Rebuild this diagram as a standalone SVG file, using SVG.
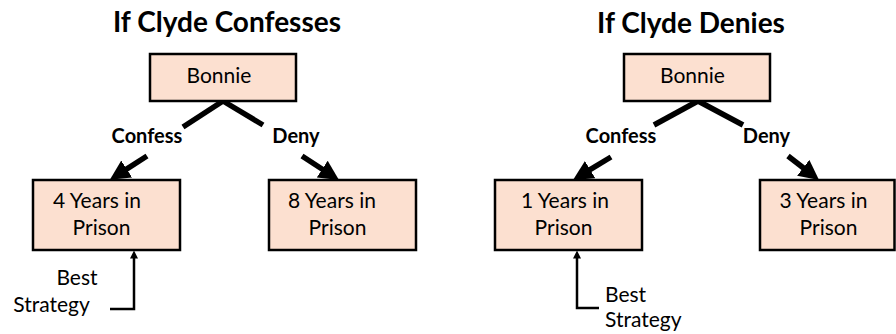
<svg xmlns="http://www.w3.org/2000/svg" width="896" height="334" viewBox="0 0 896 334">
<style>
  .box { fill: #FCE0D0; stroke: #000; stroke-width: 2.5; }
  .t { font-family: Lato, "Open Sans", "Liberation Sans", sans-serif; font-size: 21px; fill: #000; }
  .title { font-family: Lato, "Open Sans", "Liberation Sans", sans-serif; font-size: 28px; font-weight: bold; fill: #000; }
  .lbl { font-family: Lato, "Open Sans", "Liberation Sans", sans-serif; font-size: 20px; font-weight: bold; fill: #000; }
  .m { text-anchor: middle; }
  .edge { stroke: #000; stroke-width: 5.5; fill: none; }
  .pointer { stroke: #000; stroke-width: 2.5; fill: none; }
</style>
<defs>
  <marker id="big" markerUnits="userSpaceOnUse" markerWidth="21" markerHeight="21" refX="2" refY="10" orient="auto">
    <path d="M0,0 L20,10 L0,20 z" fill="#000"/>
  </marker>
  <marker id="small" markerUnits="userSpaceOnUse" markerWidth="9" markerHeight="9" refX="1" refY="4" orient="auto">
    <path d="M0,0 L8,4 L0,8 z" fill="#000"/>
  </marker>
</defs>

<text class="title m" x="227" y="32">If Clyde Confesses</text>
<text class="title m" x="691" y="33">If Clyde Denies</text>

<g id="connectors">
  <path class="edge" d="M223,101 L183,127"/>
  <path class="edge" d="M147,156 L125,170.1" marker-end="url(#big)"/>
  <path class="edge" d="M223,101 L263,125"/>
  <path class="edge" d="M302,156 L323.9,170.2" marker-end="url(#big)"/>
  <path class="edge" d="M698,101 L654,125"/>
  <path class="edge" d="M611,157 L588.4,170.7" marker-end="url(#big)"/>
  <path class="edge" d="M698,101 L743,125"/>
  <path class="edge" d="M788,156 L804.8,169" marker-end="url(#big)"/>
  <path class="pointer" d="M110,309 H134 V257.5" marker-end="url(#small)"/>
  <path class="pointer" d="M599,308 H577 V257.5" marker-end="url(#small)"/>
  <text class="lbl m" x="147" y="143">Confess</text>
  <text class="lbl m" x="296" y="143">Deny</text>
  <text class="lbl m" x="621" y="143">Confess</text>
  <text class="lbl m" x="766.5" y="143">Deny</text>
  <text class="t m" x="77" y="285">Best</text>
  <text class="t m" x="51.5" y="312">Strategy</text>
  <text class="t" x="605" y="302">Best</text>
  <text class="t" x="605" y="327">Strategy</text>
</g>

<g id="bonnie-left">
  <rect class="box" x="150" y="54" width="146" height="47"/>
  <text class="t m" x="219" y="83">Bonnie</text>
</g>
<g id="left-confess">
  <rect class="box" x="33" y="180" width="147" height="70"/>
  <text class="t m" x="97" y="208">4 Years in</text>
  <text class="t m" x="101.5" y="235">Prison</text>
</g>
<g id="left-deny">
  <rect class="box" x="269" y="180" width="147" height="70"/>
  <text class="t m" x="332" y="208">8 Years in</text>
  <text class="t m" x="337.5" y="235">Prison</text>
</g>

<g id="bonnie-right">
  <rect class="box" x="624" y="54" width="146" height="47"/>
  <text class="t m" x="692.5" y="83">Bonnie</text>
</g>
<g id="right-confess">
  <rect class="box" x="495" y="180" width="147" height="70"/>
  <text class="t m" x="565" y="208">1 Years in</text>
  <text class="t m" x="563.5" y="235">Prison</text>
</g>
<g id="right-deny">
  <rect class="box" x="760" y="180" width="134.5" height="70"/>
  <text class="t m" x="823.5" y="208">3 Years in</text>
  <text class="t m" x="828.5" y="235">Prison</text>
</g>
</svg>
